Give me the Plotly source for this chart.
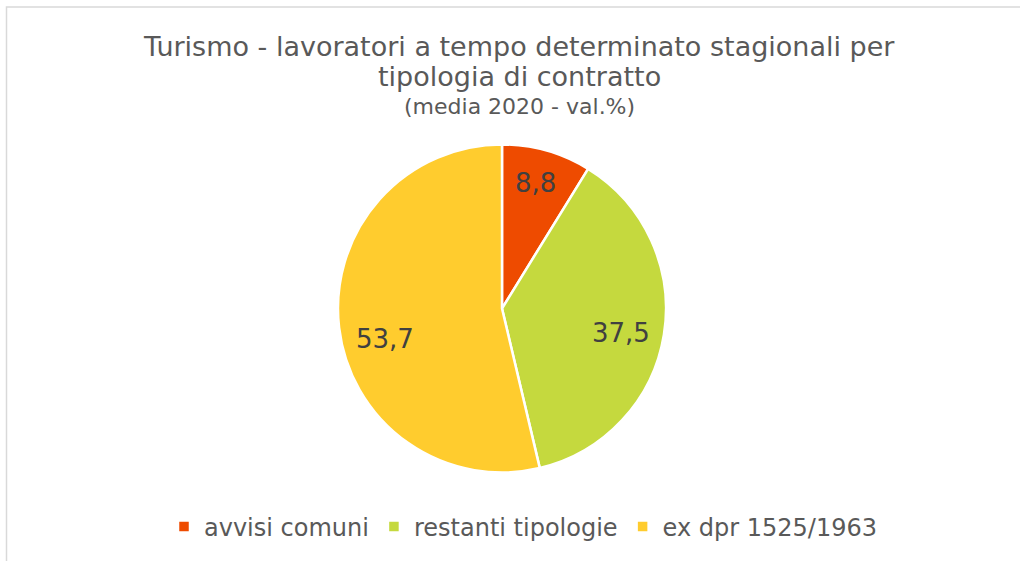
import math
import plotly.graph_objects as go

categories = ["avvisi comuni", "restanti tipologie", "ex dpr 1525/1963"]
values = [8.8, 37.5, 53.7]
colors = ["#EE4B00", "#C5D93E", "#FFCC2E"]

title_lines = ["Turismo - lavoratori a tempo determinato stagionali per", "tipologia di contratto"]
subtitle = "(media 2020 - val.%)"

W, H = 1020, 561
cx, cy, r = 502, 308.5, 164

fig = go.Figure(go.Pie(
    labels=categories,
    values=values,
    sort=False,
    direction="clockwise",
    rotation=0,
    marker=dict(colors=colors, line=dict(color="white", width=2.5)),
    textinfo="none",
    hoverinfo="label+value",
    domain=dict(x=[(cx - r) / W, (cx + r) / W], y=[(H - cy - r) / H, (H - cy + r) / H]),
))

# data labels placed near the slice mid-angle (Excel "best fit"-like position)
annotations = []
total = sum(values)
cum = 0.0
label_frac = [0.79, 0.74, 0.74]
label_dang = [-1.0, 2.4, -8.0]
for v, f, da in zip(values, label_frac, label_dang):
    mid = (cum + v / 2) / total * 2 * math.pi + math.radians(da)
    cum += v
    px = cx + f * r * math.sin(mid)
    py = cy - f * r * math.cos(mid)
    annotations.append(dict(
        text=f"{v:.1f}".replace(".", ","), x=px / W, y=(H - py) / H,
        xref="paper", yref="paper", xanchor="center", yanchor="middle", showarrow=False,
        font=dict(family="DejaVu Sans", size=26, color="#404040")))

for txt, yc, sz in [(title_lines[0], 46, 27), (title_lines[1], 77, 27), (subtitle, 107, 22)]:
    annotations.append(dict(
        text=txt, x=519 / W, xref="paper", y=(H - yc) / H, yref="paper",
        xanchor="center", yanchor="middle", showarrow=False,
        font=dict(family="DejaVu Sans", size=sz, color="#595959")))

fig.update_layout(
    width=W, height=H,
    margin=dict(l=0, r=0, t=0, b=0),
    paper_bgcolor="white",
    separators=",.",
    font=dict(family="DejaVu Sans", color="#595959"),
    showlegend=True,
    legend=dict(
        orientation="h", x=523 / W, xanchor="center", y=(H - 527) / H, yanchor="middle",
        font=dict(family="DejaVu Sans", size=24, color="#595959"),
        itemwidth=30, tracegroupgap=0,
    ),
    annotations=annotations,
    shapes=[dict(type="rect", xref="paper", yref="paper",
                 x0=6.5 / W, x1=1.05, y0=-0.05, y1=(H - 7) / H,
                 line=dict(color="#D9D9D9", width=1.5), fillcolor="rgba(0,0,0,0)")],
)

fig.write_html("out.html", config={"displayModeBar": False},
               post_script="document.body.style.margin='0';document.body.style.overflow='hidden';")
